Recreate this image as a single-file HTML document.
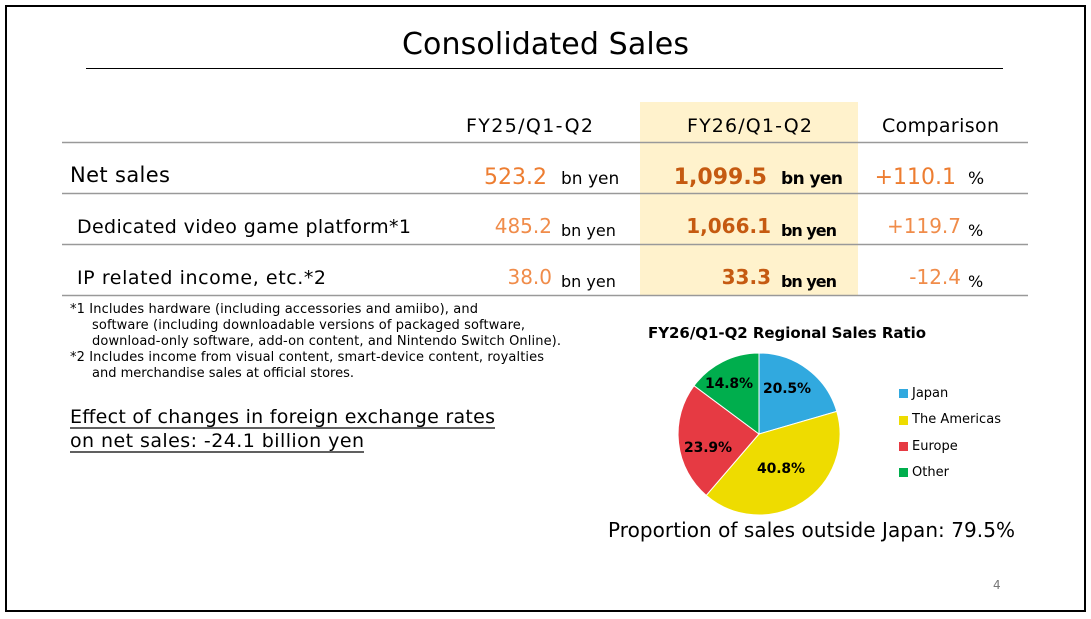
<!DOCTYPE html>
<html><head><meta charset="utf-8"><style>
html,body{margin:0;padding:0;background:#fff;}
svg{display:block;font-family:"DejaVu Sans","Liberation Sans",sans-serif;}
</style></head><body>
<svg width="1091" height="619" viewBox="0 0 1091 619">
<rect x="6" y="6" width="1079" height="605" fill="#fff" stroke="#000" stroke-width="2"/>
<text x="402" y="54" font-size="30" fill="#000" textLength="287">Consolidated Sales</text>
<line x1="86" y1="68.5" x2="1003" y2="68.5" stroke="#000" stroke-width="1"/>
<rect x="640" y="102" width="218" height="193" fill="#fff2cc"/>
<g stroke="#999" stroke-width="1.5">
<line x1="62" y1="142.5" x2="1028" y2="142.5"/>
<line x1="62" y1="193.5" x2="1028" y2="193.5"/>
<line x1="62" y1="244.5" x2="1028" y2="244.5"/>
<line x1="62" y1="295.5" x2="1028" y2="295.5"/>
</g>
<g font-size="19" fill="#000">
<text x="466" y="132" textLength="127">FY25/Q1-Q2</text>
<text x="687" y="132" textLength="125">FY26/Q1-Q2</text>
<text x="882" y="132" textLength="117">Comparison</text>
</g>
<text x="70" y="182" font-size="21" textLength="100">Net sales</text>
<text x="77" y="233" font-size="19" textLength="334">Dedicated video game platform*1</text>
<text x="77" y="284" font-size="19" textLength="249">IP related income, etc.*2</text>
<g text-anchor="end">
<text x="547" y="184" font-size="22" fill="#ed7d31">523.2</text>
<text x="552" y="233" font-size="20" fill="#f08c4a">485.2</text>
<text x="552" y="284" font-size="20" fill="#f08c4a">38.0</text>
<text x="767" y="184" font-size="22" font-weight="bold" fill="#c55a11">1,099.5</text>
<text x="771" y="233" font-size="20" font-weight="bold" fill="#c55a11">1,066.1</text>
<text x="771" y="284" font-size="20" font-weight="bold" fill="#c55a11">33.3</text>
<text x="956" y="184" font-size="22" fill="#ed7d31">+110.1</text>
<text x="961" y="233" font-size="20" fill="#f08c4a">+119.7</text>
<text x="961" y="284" font-size="20" fill="#f08c4a">-12.4</text>
</g>
<g fill="#000">
<text x="561" y="184" font-size="17">bn yen</text>
<text x="561" y="236" font-size="16">bn yen</text>
<text x="561" y="287" font-size="16">bn yen</text>
<text x="781" y="184" font-size="17" font-weight="bold" textLength="62">bn yen</text>
<text x="781" y="236" font-size="16" font-weight="bold" textLength="56">bn yen</text>
<text x="781" y="287" font-size="16" font-weight="bold" textLength="56">bn yen</text>
<text x="968" y="184" font-size="17">%</text>
<text x="968" y="236" font-size="16">%</text>
<text x="968" y="287" font-size="16">%</text>
</g>
<g font-size="13" fill="#000">
<text x="70" y="313" textLength="408">*1 Includes hardware (including accessories and amiibo), and</text>
<text x="92" y="329" textLength="433">software (including downloadable versions of packaged software,</text>
<text x="92" y="345" textLength="469">download-only software, add-on content, and Nintendo Switch Online).</text>
<text x="70" y="361" textLength="474">*2 Includes income from visual content, smart-device content, royalties</text>
<text x="92" y="377" textLength="262">and merchandise sales at official stores.</text>
</g>
<g font-size="19" fill="#000">
<text x="70" y="423" textLength="425">Effect of changes in foreign exchange rates</text>
<text x="70" y="447" textLength="294">on net sales: -24.1 billion yen</text>
</g>
<line x1="70" y1="428" x2="495" y2="428" stroke="#000" stroke-width="1.3"/>
<line x1="70" y1="452" x2="364" y2="452" stroke="#000" stroke-width="1.3"/>
<text x="648" y="338" font-size="15" font-weight="bold" textLength="278">FY26/Q1-Q2 Regional Sales Ratio</text>
<g stroke="#fff" stroke-width="1">
<path d="M759,434 L759,353 A81,81 0 0 1 836.8,411.4 Z" fill="#31a9df"/>
<path d="M759,434 L836.8,411.4 A81,81 0 0 1 706.2,495.4 Z" fill="#eedc00"/>
<path d="M759,434 L706.2,495.4 A81,81 0 0 1 694,385.7 Z" fill="#e63a43"/>
<path d="M759,434 L694,385.7 A81,81 0 0 1 759,353 Z" fill="#00ae4d"/>
</g>
<g font-size="14" font-weight="bold" fill="#000">
<text x="763" y="393" textLength="48">20.5%</text>
<text x="705" y="388" textLength="48">14.8%</text>
<text x="684" y="452" textLength="48">23.9%</text>
<text x="757" y="473" textLength="48">40.8%</text>
</g>
<rect x="899" y="389" width="9" height="9" fill="#31a9df"/>
<rect x="899" y="416" width="9" height="9" fill="#eedc00"/>
<rect x="899" y="442" width="9" height="9" fill="#e63a43"/>
<rect x="899" y="468" width="9" height="9" fill="#00ae4d"/>
<g font-size="13" fill="#000">
<text x="912" y="397">Japan</text>
<text x="912" y="423" textLength="89">The Americas</text>
<text x="912" y="450">Europe</text>
<text x="912" y="476">Other</text>
</g>
<text x="608" y="537" font-size="20" fill="#000" textLength="407">Proportion of sales outside Japan: 79.5%</text>
<text x="993" y="589" font-size="12" fill="#777">4</text>
</svg>
</body></html>
